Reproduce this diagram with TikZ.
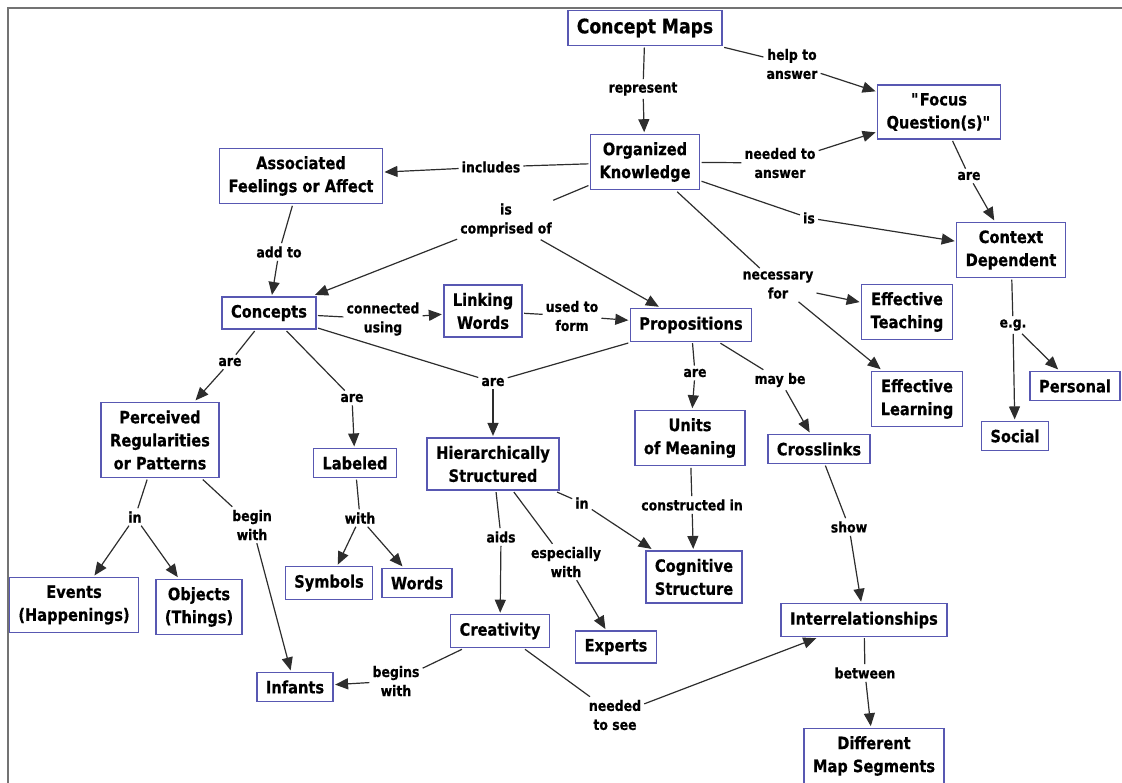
\documentclass[tikz,border=0pt]{standalone}
\usepackage{fontspec}
\setmainfont{DejaVu Sans}[FakeStretch=0.86, BoldFeatures={FakeBold=0.6}]
\usepackage{tikz}
\usepackage{xcolor}
\usetikzlibrary{arrows.meta}
\definecolor{boxblue}{RGB}{88,88,178}
\definecolor{linkgray}{RGB}{45,45,45}
\definecolor{framegray}{RGB}{115,115,115}

\begin{document}
\begin{tikzpicture}[
    x=1pt, y=-1pt,
    box/.style={draw=boxblue, line width=1.4pt, inner xsep=9pt, inner ysep=8pt,
        outer sep=2pt, align=center, font=\bfseries\fontsize{17}{23}\selectfont},
    link/.style={inner sep=3pt, align=center, font=\bfseries\fontsize{14.5}{19}\selectfont},
    conn/.style={draw=linkgray, line width=1.2pt},
    arr/.style={conn, -{Triangle[length=13pt,width=11pt]}}
]
\useasboundingbox (0,0) rectangle (1122,783);
\draw [framegray, line width=2pt] (8,783) -- (8,8) -- (1122,8);

% concepts
\node[box, font=\bfseries\fontsize{20}{24}\selectfont] at (645,28) (cmaps) {Concept Maps};
\node[box] at (939,112) (focus) {\textquotedbl Focus\\Question(s)\textquotedbl};
\node[box] at (645,162) (orgk) {Organized\\Knowledge};
\node[box] at (301,176) (assoc) {Associated\\Feelings or Affect};
\node[box] at (1011,250) (context) {Context\\Dependent};
\node[box] at (269,313) (concepts) {Concepts};
\node[box] at (483,311) (linkw) {Linking\\Words};
\node[box] at (691,325) (props) {Propositions};
\node[box] at (907,312) (teach) {Effective\\Teaching};
\node[box] at (917,399) (learn) {Effective\\Learning};
\node[box] at (1075,386) (personal) {Personal};
\node[box] at (1015,436) (social) {Social};
\node[box] at (160,440) (percv) {Perceived\\Regularities\\or Patterns};
\node[box] at (355,463) (labeled) {Labeled};
\node[box] at (493,464) (hier) {Hierarchically\\Structured};
\node[box] at (690,438) (units) {Units\\of Meaning};
\node[box] at (819,449) (xlinks) {Crosslinks};
\node[box] at (74,605) (events) {Events\\(Happenings)};
\node[box] at (199,607) (objects) {Objects\\(Things)};
\node[box] at (329,583) (symbols) {Symbols};
\node[box] at (417,583) (words) {Words};
\node[box] at (694,577) (cogn) {Cognitive\\Structure};
\node[box] at (616,647) (experts) {Experts};
\node[box] at (500,631) (creat) {Creativity};
\node[box] at (295,687) (infants) {Infants};
\node[box] at (864,620) (interrel) {Interrelationships};
\node[box] at (874,756) (segments) {Different\\Map Segments};

% linking phrases
\node[link] at (643,89) (represent) {represent};
\node[link] at (792,64) (helpto) {help to\\answer};
\node[link] at (780,163) (needans) {needed to\\answer};
\node[link] at (491,167) (includes) {includes};
\node[link] at (279,252) (addto) {add to};
\node[link] at (506,220) (comprised) {is\\comprised of};
\node[link] at (809,218) (isctx) {is};
\node[link] at (969,176) (arefq) {are};
\node[link] at (778,285) (necfor) {necessary\\for};
\node[link] at (1013,325) (eg) {e.g.};
\node[link] at (383,319) (connusing) {connected\\using};
\node[link] at (572,316) (usedto) {used to\\form};
\node[link] at (230,362) (areperc) {are};
\node[link] at (352,398) (arelab) {are};
\node[link] at (493,382) (arehier) {are};
\node[link] at (695,373) (areunits) {are};
\node[link] at (780,380) (maybe) {may be};
\node[link] at (849,527) (show) {show};
\node[link] at (865,673) (between) {between};
\node[link] at (692,505) (constr) {constructed in};
\node[link] at (582,503) (incogn) {in};
\node[link] at (501,537) (aids) {aids};
\node[link] at (566,562) (espwith) {especially\\with};
\node[link] at (396,681) (beginswith) {begins\\with};
\node[link] at (615,715) (needsee) {needed\\to see};
\node[link] at (135,517) (inpat) {in};
\node[link] at (252,525) (beginwith) {begin\\with};
\node[link] at (360,518) (with) {with};

\draw [conn] (cmaps)--(represent);
\draw [arr] (represent)--(orgk);
\draw [conn] (cmaps)--(helpto);
\draw [arr] (helpto)--(focus);
\draw [conn] (orgk)--(needans);
\draw [arr] (needans)--(focus);
\draw [conn] (orgk)--(includes);
\draw [arr] (includes)--(assoc);
\draw [conn] (assoc)--(addto);
\draw [arr] (addto)--(concepts);
\draw [conn] (orgk)--(comprised);
\draw [arr] (comprised)--(concepts);
\draw [arr] (comprised)--(props);
\draw [conn] (orgk)--(isctx);
\draw [arr] (isctx)--(context);
\draw [conn] (focus)--(arefq);
\draw [arr] (arefq)--(context);
\draw [conn] (orgk)--(necfor);
\draw [arr] (necfor)--(teach);
\draw [arr] (necfor)--(learn);
\draw [conn] (context)--(eg);
\draw [arr] (eg)--(social);
\draw [arr] (eg)--(personal);
\draw [conn] (concepts)--(connusing);
\draw [arr] (connusing)--(linkw);
\draw [conn] (linkw)--(usedto);
\draw [arr] (usedto)--(props);
\draw [conn] (concepts)--(areperc);
\draw [arr] (areperc)--(percv);
\draw [conn] (concepts)--(arelab);
\draw [arr] (arelab)--(labeled);
\draw [conn] (concepts)--(arehier);
\draw [conn] (props)--(arehier);
\draw [arr] (arehier)--(hier);
\draw [conn] (props)--(areunits);
\draw [arr] (areunits)--(units);
\draw [conn] (props)--(maybe);
\draw [arr] (maybe)--(xlinks);
\draw [conn] (xlinks)--(show);
\draw [arr] (show)--(interrel);
\draw [conn] (interrel)--(between);
\draw [arr] (between)--(segments);
\draw [conn] (units)--(constr);
\draw [arr] (constr)--(cogn);
\draw [conn] (hier)--(incogn);
\draw [arr] (incogn)--(cogn);
\draw [conn] (hier)--(aids);
\draw [arr] (aids)--(creat);
\draw [conn] (hier)--(espwith);
\draw [arr] (espwith)--(experts);
\draw [conn] (creat)--(beginswith);
\draw [arr] (beginswith)--(infants);
\draw [conn] (creat)--(needsee);
\draw [arr] (needsee)--(interrel);
\draw [conn] (percv)--(inpat);
\draw [arr] (inpat)--(events);
\draw [arr] (inpat)--(objects);
\draw [conn] (percv)--(beginwith);
\draw [arr] (beginwith)--(infants);
\draw [conn] (labeled)--(with);
\draw [arr] (with)--(symbols);
\draw [arr] (with)--(words);
\end{tikzpicture}
\end{document}
